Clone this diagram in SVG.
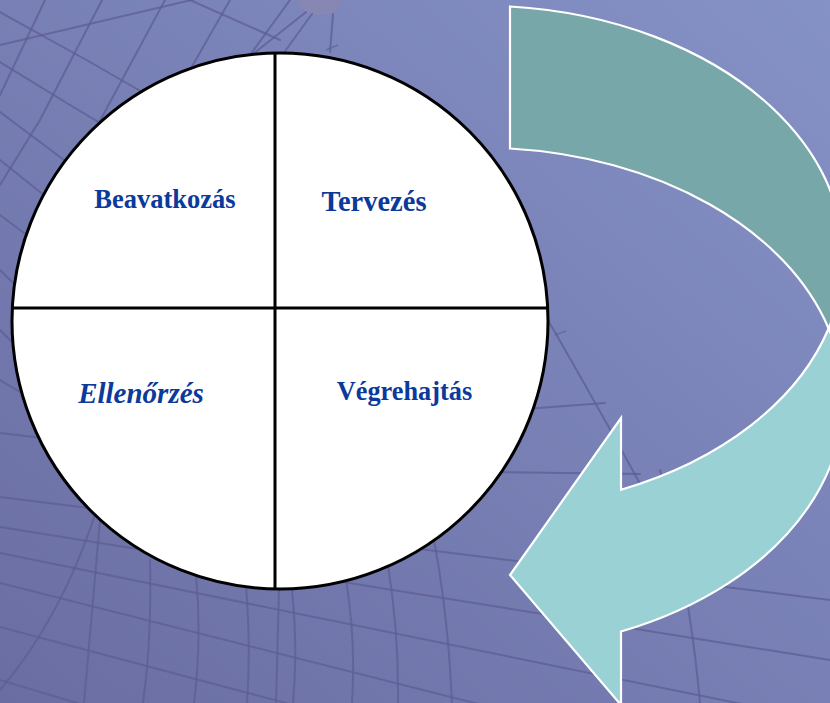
<svg xmlns="http://www.w3.org/2000/svg" width="830" height="703" viewBox="0 0 830 703">
  <defs>
    <linearGradient id="bg" x1="1" y1="0" x2="0" y2="1">
      <stop offset="0" stop-color="#8592C6"/>
      <stop offset="1" stop-color="#6A6DA2"/>
    </linearGradient>
    <style>
      .grid { fill: none; stroke: #5D5D96; stroke-width: 2; stroke-opacity: 0.75; stroke-linecap: round; }
      .grid-thin { fill: none; stroke: #5D5D96; stroke-width: 1.5; stroke-opacity: 0.6; }
      .wheel { fill: #FFFFFF; stroke: #000000; stroke-width: 3; }
      .axis { stroke: #000000; stroke-width: 3; }
      .band { stroke: #FFFFFF; stroke-width: 2.2; stroke-linejoin: miter; }
      .label { font-family: "Liberation Serif", "Times New Roman", serif; font-weight: bold; fill: #0B3A9C; }
    </style>
  </defs>

  <!-- backdrop -->
  <rect x="0" y="0" width="830" height="703" fill="url(#bg)"/>

  <!-- wireframe globe in the backdrop -->
  <g id="backdrop-grid">
    <!-- upper left lattice -->
    <path class="grid" d="M0,45 L200,-2" stroke-width="4"/>
    <path class="grid" d="M0,12 L90,62 L330,200"/>
    <path class="grid" d="M0,62 L70,105 L270,225"/>
    <path class="grid" d="M0,112 L60,157 L200,255"/>
    <path class="grid" d="M0,160 L50,200 L140,270"/>
    <path class="grid" d="M0,215 L40,245 L90,290"/>
    <path class="grid" d="M0,270 L30,300"/>
    <path class="grid" d="M45,0 L0,95"/>
    <path class="grid" d="M102,0 L40,120 L0,185"/>
    <path class="grid" d="M165,0 L95,130 L20,270"/>
    <path class="grid" d="M230,0 L150,140 L70,250"/>
    <path class="grid" d="M290,0 L210,110"/>
    <path class="grid" d="M190,0 L280,40"/>
    <path class="grid" d="M0,330 L15,345"/>
    <path class="grid" d="M0,380 L25,395"/>
    <!-- antenna -->
    <ellipse cx="320" cy="3" rx="20" ry="12" fill="#8A87B2" opacity="0.9"/>
    <path class="grid" d="M306,12 L248,58"/>
    <path class="grid" d="M312,14 L283,54"/>
    <path class="grid" d="M333,14 L330,52"/>
    <path class="grid-thin" d="M326,50 L338,45"/>

    <!-- lower dish lattice -->
    <path class="grid" d="M0,433 L60,440"/>
    <path class="grid" d="M0,497 L830,600"/>
    <path class="grid" d="M0,527 L830,660"/>
    <path class="grid" d="M0,553 L830,722"/>
    <path class="grid" d="M0,583 L700,760"/>
    <path class="grid" d="M0,627 L500,760"/>
    <path class="grid" d="M0,680 L200,740"/>
    <path class="grid" d="M495,472 L640,474"/>
    <path class="grid" d="M525,409 L605,403"/>
    <path class="grid" d="M0,690 Q60,620 95,515"/>
    <path class="grid" d="M100,520 Q92,610 84,703"/>
    <path class="grid" d="M150,560 Q152,640 143,703"/>
    <path class="grid" d="M196,575 Q202,640 194,703"/>
    <path class="grid" d="M246,585 Q251,650 247,703"/>
    <path class="grid" d="M279,590 L276,703" stroke-width="4"/>
    <path class="grid" d="M292,590 Q298,650 293,703"/>
    <path class="grid" d="M346,580 Q356,640 352,703"/>
    <path class="grid" d="M388,565 Q399,635 398,703"/>
    <path class="grid" d="M432,530 Q448,610 452,703"/>
    <path class="grid" d="M660,470 Q690,590 700,703"/>
    <path class="grid" d="M545,315 Q600,410 660,520"/>
    <path class="grid-thin" d="M555,335 L566,331"/>
  </g>

  <!-- the cycle arrow: two equal ellipses offset vertically by the band width -->
  <g id="connectors">
    <!-- rear band (shaded) -->
    <path id="arrow-back" class="band" fill="#77A7A8" d="M510,6.5 A363.3,251.9 0 0 1 828.6,328.5 A363.3,251.9 0 0 0 510,148.5 Z"/>
    <!-- front band with arrowhead -->
    <path id="arrow-front" class="band" fill="#99D1D5" d="M828.6,328.5 A363.3,251.9 0 0 1 621,631.5 L621,705 L510,575 L621,418 L621,489.7 A363.3,251.9 0 0 0 828.6,328.5 Z"/>
  </g>

  <!-- four-quadrant wheel -->
  <g id="wheel">
    <circle class="wheel" cx="280" cy="321" r="268"/>
    <line class="axis" x1="275" y1="53" x2="275" y2="589"/>
    <line class="axis" x1="12" y1="308" x2="548" y2="308"/>
  </g>

  <g id="q-beavatkozas">
    <text class="label" x="165" y="208" font-size="26.5" text-anchor="middle">Beavatkozás</text>
  </g>
  <g id="q-tervezes">
    <text class="label" x="374" y="211" font-size="28.5" text-anchor="middle">Tervezés</text>
  </g>
  <g id="q-ellenorzes">
    <text class="label" x="141" y="403" font-size="29" font-style="italic" text-anchor="middle">Ellenőrzés</text>
  </g>
  <g id="q-vegrehajtas">
    <text class="label" x="404.5" y="400" font-size="26.3" text-anchor="middle">Végrehajtás</text>
  </g>
</svg>
